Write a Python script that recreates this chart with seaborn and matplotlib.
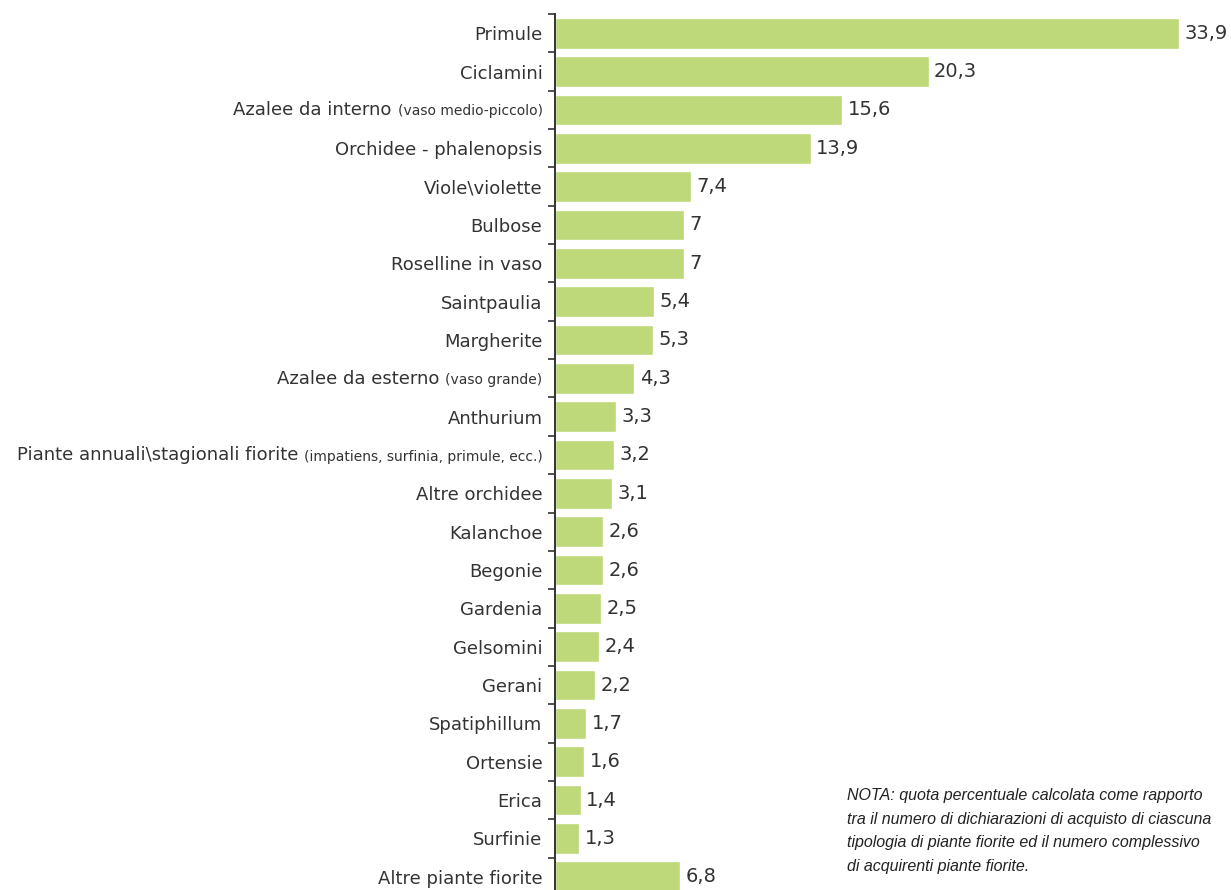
import numpy as np
import pandas as pd
import matplotlib
matplotlib.use('Agg')
import matplotlib.pyplot as plt
import seaborn as sns
from matplotlib.ticker import FixedLocator

# data
plants = ['Primule', 'Ciclamini', 'Azalee da interno', 'Orchidee - phalenopsis',
          'Viole\\violette', 'Bulbose', 'Roselline in vaso', 'Saintpaulia',
          'Margherite', 'Azalee da esterno', 'Anthurium',
          'Piante annuali\\stagionali fiorite', 'Altre orchidee', 'Kalanchoe',
          'Begonie', 'Gardenia', 'Gelsomini', 'Gerani', 'Spatiphillum',
          'Ortensie', 'Erica', 'Surfinie', 'Altre piante fiorite']
notes = {'Azalee da interno': '(vaso medio-piccolo)',
         'Azalee da esterno': '(vaso grande)',
         'Piante annuali\\stagionali fiorite': '(impatiens, surfinia, primule, ecc.)'}
share = [33.9, 20.3, 15.6, 13.9, 7.4, 7.0, 7.0, 5.4, 5.3, 4.3, 3.3, 3.2, 3.1,
         2.6, 2.6, 2.5, 2.4, 2.2, 1.7, 1.6, 1.4, 1.3, 6.8]
value_labels = ['33,9', '20,3', '15,6', '13,9', '7,4', '7', '7', '5,4', '5,3',
                '4,3', '3,3', '3,2', '3,1', '2,6', '2,6', '2,5', '2,4', '2,2',
                '1,7', '1,6', '1,4', '1,3', '6,8']
nota = ('NOTA: quota percentuale calcolata come rapporto\n'
        'tra il numero di dichiarazioni di acquisto di ciascuna\n'
        'tipologia di piante fiorite ed il numero complessivo\n'
        'di acquirenti piante fiorite.')

df = pd.DataFrame({'pianta': plants, 'quota': share})

sns.set_style('white')
plt.rcParams['font.family'] = ['DejaVu Sans']
txt = '#333333'

fig = plt.figure(figsize=(12.31, 8.90), dpi=100)
ax = fig.add_axes([555 / 1231, -6 / 890, 676 / 1231, 882 / 890])

sns.barplot(data=df, x='quota', y='pianta', orient='h', color='#bdd979',
            saturation=1, width=0.8, ax=ax)
ax.set_xlim(0, 36.74)
ax.set_ylim(len(plants) - 0.5, -0.5)
ax.set_xlabel('')
ax.set_ylabel('')
ax.xaxis.set_visible(False)
for s in ['top', 'right', 'bottom']:
    ax.spines[s].set_visible(False)
ax.spines['left'].set_color('#333333')
ax.spines['left'].set_linewidth(1.4)

ax.bar_label(ax.containers[0], labels=value_labels, padding=4,
             fontsize=14, color=txt)

# ticks between categories, labels without ticks
ax.yaxis.set_minor_locator(FixedLocator(np.arange(-0.5, len(plants), 1)))
ax.tick_params(axis='y', which='minor', left=True, length=5, width=1.2,
               color='#333333', direction='out')
ax.tick_params(axis='y', which='major', left=True, length=0, pad=9)

ticklabels = []
for p in plants:
    ticklabels.append('' if p in notes else p)
ax.set_yticks(range(len(plants)))
ax.set_yticklabels(ticklabels, fontsize=13, color=txt)

# labels with a smaller note in brackets
for i, p in enumerate(plants):
    if p not in notes:
        continue
    small = ax.annotate(notes[p], xy=(0, i), xycoords=('axes fraction', 'data'),
                        xytext=(-9, 0), textcoords='offset points',
                        ha='right', va='center_baseline', fontsize=10, color=txt)
    ax.annotate(p + ' ', xy=(0, 0), xycoords=small, xytext=(0, -0.6),
                textcoords='offset points', ha='right', va='bottom',
                fontsize=13, color=txt)

fig.text(847 / 1231, 1 - 788 / 890, nota, ha='left', va='top', style='italic',
         fontsize=11.5, color='#222222', linespacing=1.72,
         family=['Liberation Sans Narrow', 'Liberation Sans', 'DejaVu Sans'])

fig.savefig('out.png', dpi=100)
